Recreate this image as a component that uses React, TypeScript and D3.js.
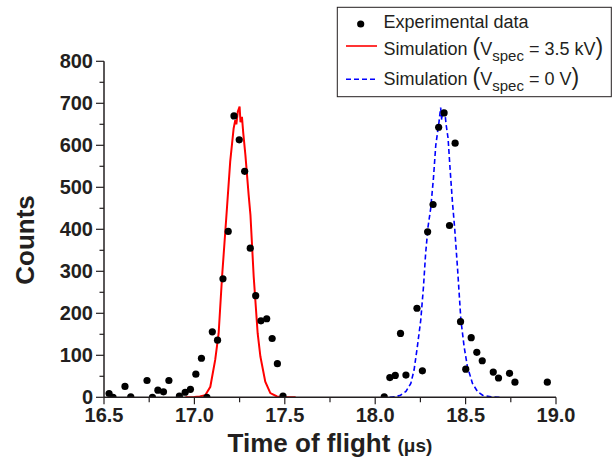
import React from "react";
import * as d3 from "d3";

const expTime = [16.528,16.55,16.616,16.648,16.738,16.768,16.798,16.829,16.859,16.917,16.949,16.978,17.008,17.039,17.069,17.099,17.128,17.158,17.187,17.219,17.248,17.278,17.309,17.339,17.368,17.40,17.43,17.459,17.49,
  18.05,18.081,18.111,18.14,18.17,18.231,18.261,18.29,18.32,18.351,18.381,18.411,18.442,18.472,18.501,18.531,18.562,18.592,18.653,18.682,18.743,18.773,18.952];
const expCounts = [9,0,26,1,40,0,17,13,40,3,12,19,55,93,0,156,136,282,395,670,613,538,355,242,182,187,140,80,3,
  1,47,52,152,53,212,63,394,459,643,677,409,605,180,67,142,107,87,60,46,57,36,36];

const sim35Time = [16.95,17.0,17.03,17.06,17.088,17.115,17.134,17.153,17.18,17.198,17.217,17.226,17.232,17.24,17.25,17.255,17.263,17.27,17.282,17.30,17.31,17.328,17.35,17.365,17.392,17.42,17.457,17.5,17.56];
const sim35Counts = [0,0.5,2,5,25,89,152,287,450,561,640,660,650,680,692,655,668,630,577,482,434,287,152,97,37,10,2,0.5,0];

const sim0Time = [18.08,18.11,18.14,18.17,18.197,18.215,18.233,18.252,18.267,18.279,18.292,18.307,18.322,18.335,18.353,18.362,18.368,18.372,18.385,18.392,18.403,18.414,18.427,18.44,18.456,18.474,18.492,18.51,18.538,18.567,18.594,18.64,18.7];
const sim0Counts = [0,1,5,14,33,65,120,184,263,343,405,450,521,600,656,690,660,684,680,650,617,545,466,400,303,184,120,73,33,13,5,1,0];

const xTicks = [16.5, 17.0, 17.5, 18.0, 18.5, 19.0];
const yTicks = [0, 100, 200, 300, 400, 500, 600, 700, 800];

const FONT = "'Liberation Sans', Arial, sans-serif";
const AX = "#231f20";

export default function App() {
  const W = 614, H = 459;
  const x = d3.scaleLinear().domain([16.5, 19.0]).range([104, 556]);
  const y = d3.scaleLinear().domain([0, 800]).range([397.3, 61.3]);
  const mk = (ts: number[], cs: number[]) =>
    d3.line<number>().x((t) => x(t)).y((_, i) => y(cs[i]))(ts) || "";
  const xMinor = d3.range(16.5, 19.001, 0.25);
  const yMinor = d3.range(0, 801, 50);
  return (
    <svg width={W} height={H} style={{ position: "absolute", left: 0, top: 0, background: "#fff" }} fontFamily={FONT}>
      <defs>
        <clipPath id="plotclip">
          <rect x={104} y={40} width={460} height={357.3} />
        </clipPath>
      </defs>
      <g clipPath="url(#plotclip)">
        <path d={mk(sim35Time, sim35Counts)} fill="none" stroke="#ff0000" strokeWidth={2} />
        <path d={mk(sim0Time, sim0Counts)} fill="none" stroke="#0000ff" strokeWidth={1.6} strokeDasharray="5,3" />
        {expTime.map((t, i) => (
          <circle key={i} cx={x(t)} cy={y(expCounts[i])} r={3.6} fill="#000" />
        ))}
      </g>
      <line x1={104} x2={556} y1={397.3} y2={397.3} stroke={AX} strokeWidth={1.5} />
      <line x1={104} x2={104} y1={61.3} y2={397.3} stroke={AX} strokeWidth={1.5} />
      {xMinor.map((t, i) => (
        <line key={"xm" + i} x1={x(t)} x2={x(t)} y1={397.3} y2={397.3 + (i % 2 === 0 ? 7 : 5)} stroke={AX} strokeWidth={1.2} />
      ))}
      {yMinor.map((v, i) => (
        <line key={"ym" + i} x1={104 - (i % 2 === 0 ? 8 : 4.5)} x2={104} y1={y(v)} y2={y(v)} stroke={AX} strokeWidth={1.2} />
      ))}
      {xTicks.map((t) => (
        <text key={"xt" + t} x={x(t)} y={421.5} textAnchor="middle" fontSize={20} fontWeight="bold" fill={AX}>
          {t.toFixed(1)}
        </text>
      ))}
      {yTicks.map((v) => (
        <text key={"yt" + v} x={93} y={y(v) + 6.5} textAnchor="end" fontSize={20} fontWeight="bold" fill={AX}>
          {v}
        </text>
      ))}
      <text x={330} y={452} textAnchor="middle" fontWeight="bold" fill={AX}>
        <tspan fontSize={26}>Time of flight </tspan>
        <tspan fontSize={19}>(μs)</tspan>
      </text>
      <text transform="translate(34,240) rotate(-90)" textAnchor="middle" fontSize={26} fontWeight="bold" fill={AX}>
        Counts
      </text>
      <rect x={337.3} y={7.3} width={274} height={89.4} fill="#fff" stroke={AX} strokeWidth={1} />
      <circle cx={360.7} cy={24} r={3.6} fill="#000" />
      <text x={383.5} y={28.3} fontSize={18} fill={AX}>Experimental data</text>
      <line x1={346} x2={377} y1={46} y2={46} stroke="#ff0000" strokeWidth={1.6} />
      <text x={383.5} y={55} fontSize={18} fill={AX}>
        Simulation <tspan fontSize={23}>(</tspan>V<tspan fontSize={15} dy={6}>spec</tspan><tspan dy={-6}> = 3.5 kV</tspan><tspan fontSize={23}>)</tspan>
      </text>
      <line x1={346} x2={377} y1={79.3} y2={79.3} stroke="#0000ff" strokeWidth={1.4} strokeDasharray="5,3" />
      <text x={383.5} y={85} fontSize={18} fill={AX}>
        Simulation <tspan fontSize={23}>(</tspan>V<tspan fontSize={15} dy={6}>spec</tspan><tspan dy={-6}> = 0 V</tspan><tspan fontSize={23}>)</tspan>
      </text>
    </svg>
  );
}
